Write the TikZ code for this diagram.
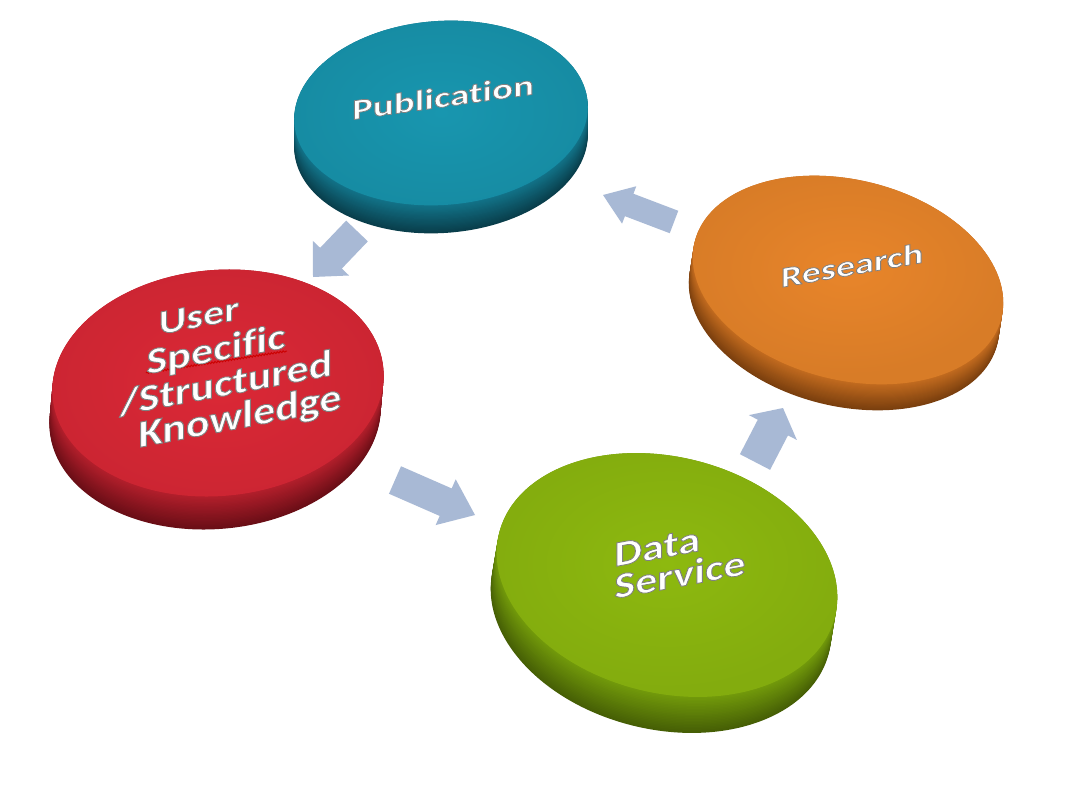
\documentclass[tikz,border=0pt]{standalone}
\usepackage{fontspec}
\setmainfont{Carlito}[Ligatures=NoCommon]
\usetikzlibrary{calc,decorations.pathmorphing}
\definecolor{pubtop}{HTML}{1896AF}
\definecolor{pubside}{HTML}{12748A}
\definecolor{pubdark}{HTML}{093E4B}
\definecolor{restop}{HTML}{E8852A}
\definecolor{resside}{HTML}{C46C1F}
\definecolor{resdark}{HTML}{7A3F0E}
\definecolor{usrtop}{HTML}{DB2836}
\definecolor{usrside}{HTML}{B41F2C}
\definecolor{usrdark}{HTML}{6A0E16}
\definecolor{dattop}{HTML}{8DB90F}
\definecolor{datside}{HTML}{739B0B}
\definecolor{datdark}{HTML}{465F05}
\definecolor{arrowc}{HTML}{A8B9D5}
\newcommand\emb[1]{\special{pdf:literal direct 2 Tr 0.5 0.5 0.5 RG 1 w}#1\special{pdf:literal direct 0 Tr}}
\tikzset{
  lbl/.style={text=white, inner sep=0pt},
}
% disc: #1 name, #2 cx, #3 cy, #4 a, #5 b, #6 rot, #7 dx, #8 dy, #9 colour prefix
\newcommand\mydisc[9]{%
  \foreach \k in {0,...,24}{%
    \pgfmathsetmacro\ox{#2+#7*(1-\k/24)}%
    \pgfmathsetmacro\oy{#3+#8*(1-\k/24)}%
    \pgfmathtruncatemacro\mixp{100*\k/24}%
    \fill[#9side!\mixp!#9dark, rotate around={#6:(\ox,\oy)}]
      (\ox,\oy) ellipse [x radius=#4pt, y radius=#5pt];
  }%
  \shade[inner color=#9top, outer color=#9top!93!black, rotate around={#6:(#2,#3)}]
    (#2,#3) ellipse [x radius=#4pt, y radius=#5pt];
  \coordinate (#1) at (#2,#3);
}
% block arrow: #1 tail, #2 tip, #3 half shaft width, #4 half head width, #5 head length
\newcommand\myarrow[5]{%
  \coordinate (#1b) at ($(#2)!#5!(#1)$);
  \fill[arrowc] ($(#1)!#3!90:(#2)$) -- ($(#1b)!#3!90:(#2)$) -- ($(#1b)!#4!90:(#2)$)
    -- (#2) -- ($(#1b)!#4!-90:(#2)$) -- ($(#1b)!#3!-90:(#2)$) -- ($(#1)!#3!-90:(#2)$) -- cycle;
}
\begin{document}
\begin{tikzpicture}[x=1pt,y=-1pt]
\useasboundingbox (0,0) rectangle (1073,787);
\fill[white] (0,0) rectangle (1073,787);

% discs
\mydisc{pub}{441}{113}{147}{92}{4}{0}{28}{pub}
\mydisc{res}{848}{280}{158}{100}{-14}{-4}{26}{res}
\mydisc{usr}{218}{383}{166}{113}{5}{-3}{33}{usr}
\mydisc{dat}{667}{575}{173}{118}{-14}{-6}{36}{dat}

% arrows
\coordinate (a1t) at (357,231); \coordinate (a1h) at (313,277);
\coordinate (a2t) at (395,480); \coordinate (a2h) at (475,515);
\coordinate (a3t) at (755,462); \coordinate (a3h) at (783,408);
\coordinate (a4t) at (674,222); \coordinate (a4h) at (603,195);
\myarrow{a1t}{a1h}{15pt}{25pt}{26pt}
\myarrow{a2t}{a2h}{15pt}{25pt}{32pt}
\myarrow{a3t}{a3h}{17pt}{27pt}{22pt}
\myarrow{a4t}{a4h}{12pt}{20pt}{28pt}

% spell-check squiggle under "Specific"
\coordinate (sq1) at (146,373); \coordinate (sq2) at (287,351);
\draw[red!80!black, line width=0.9pt, decorate, decoration={snake, amplitude=0.8pt, segment length=3pt}] (sq1) -- (sq2);

% labels
\node[lbl, yslant=0.14, yscale=0.74, font=\fontsize{39}{44}\selectfont\bfseries] (pubt) at (443,97) {\emb{Publication}};
\node[lbl, yslant=0.176, yscale=0.76, font=\fontsize{38}{44}\selectfont\bfseries] (rest) at (852,265) {\emb{Research}};

\node[lbl, yslant=0.19, yscale=0.82, font=\fontsize{42}{48}\selectfont\bfseries] (usr1) at (199,316) {\emb{User}};
\node[lbl, yslant=0.19, yscale=0.84, font=\fontsize{44}{48}\selectfont\bfseries] (usr2) at (216,351) {\emb{Specific}};
\node[lbl, yslant=0.19, yscale=0.86, font=\fontsize{44}{48}\selectfont\bfseries] (usr3) at (226,383) {\emb{/Structured}};
\node[lbl, yslant=0.19, yscale=0.88, font=\fontsize{44}{48}\selectfont\bfseries] (usr4) at (240,418) {\emb{Knowledge}};

\node[lbl, yslant=0.185, yscale=0.82, align=left, font=\fontsize{44}{39}\selectfont\bfseries] (datt) at (680,559) {\emb{Data}\\\emb{Service}};
\end{tikzpicture}
\end{document}
